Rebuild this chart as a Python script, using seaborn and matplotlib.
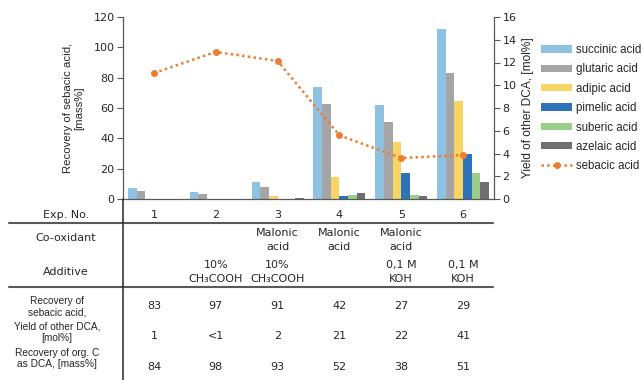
import matplotlib
matplotlib.use("Agg")
import matplotlib.pyplot as plt
import matplotlib.transforms as mtransforms
from matplotlib.lines import Line2D
from matplotlib.patches import Patch
import numpy as np
import pandas as pd
import seaborn as sns

# ---- data -------------------------------------------------------------
exp_no = ["1", "2", "3", "4", "5", "6"]
acids = ["succinic acid", "glutaric acid", "adipic acid",
         "pimelic acid", "suberic acid", "azelaic acid"]
# yield of other dicarboxylic acids, mol%
succinic = [1.0, 0.64, 1.49, 9.81, 8.26, 14.92]
glutaric = [0.73, 0.47, 1.02, 8.38, 6.77, 11.04]
adipic = [0.0, 0.0, 0.29, 1.96, 5.05, 8.64]
pimelic = [0.0, 0.0, 0.0, 0.29, 2.31, 4.0]
suberic = [0.0, 0.0, 0.0, 0.38, 0.38, 2.28]
azelaic = [0.0, 0.0, 0.12, 0.5, 0.23, 1.46]
# recovery of sebacic acid, mass%
sebacic = [83, 97, 91, 42, 27, 29]

# table rows
co_oxidant = ["", "", "Malonic\nacid", "Malonic\nacid", "Malonic\nacid", ""]
additive = ["", "10%\nCH\u2083COOH", "10%\nCH\u2083COOH", "", "0,1 M\nKOH", "0,1 M\nKOH"]
yield_other = ["1", "<1", "2", "21", "22", "41"]
recovery_c = ["84", "98", "93", "52", "38", "51"]

colors = ["#8FC1E3", "#A5A5A8", "#F8D465", "#2E73BA", "#9ACF8A", "#6F6E70"]
seb_color = "#ED7D31"
ink = "#595959"

sns.set_theme(style="white")
plt.rcParams["font.family"] = ["DejaVu Sans"]
plt.rcParams["text.color"] = "#262626"
plt.rcParams["axes.labelcolor"] = "#262626"
plt.rcParams["xtick.color"] = "#262626"
plt.rcParams["ytick.color"] = "#262626"
label_font = ["Liberation Sans", "DejaVu Sans"]

W, H = 643, 380
fig = plt.figure(figsize=(W / 100, H / 100), dpi=100)

x0, x1, ytop, ybot = 123, 494, 17, 199
ax = fig.add_axes([x0 / W, 1 - ybot / H, (x1 - x0) / W, (ybot - ytop) / H])
ax2 = ax.twinx()

long = pd.DataFrame({
    "exp": np.repeat(exp_no, len(acids)),
    "acid": acids * len(exp_no),
    "val": np.column_stack([succinic, glutaric, adipic, pimelic, suberic, azelaic]).ravel(),
})

sns.barplot(data=long, x="exp", y="val", hue="acid", hue_order=acids,
            order=exp_no, palette=colors, width=0.84, ax=ax2,
            legend=False, linewidth=0, saturation=1)

pos = np.arange(len(exp_no))
sns.lineplot(x=pos, y=sebacic, ax=ax, color=seb_color, marker="o",
             markersize=5, markeredgewidth=0, linewidth=1.8,
             linestyle=(0, (1, 1.3)))

# put the line axis above the bars
ax.set_zorder(ax2.get_zorder() + 1)
ax.patch.set_visible(False)

ax.set_xlim(-0.5, len(exp_no) - 0.5)
ax.set_ylim(0, 120)
ax.set_yticks(np.arange(0, 121, 20))
ax2.set_ylim(0, 16)
ax2.set_yticks(np.arange(0, 17, 2))
ax.set_xticks(pos)
ax.set_xticklabels([])
ax.tick_params(axis="x", length=0)
ax.set_xlabel("")
ax2.set_xlabel("")

for a in (ax, ax2):
    a.tick_params(axis="y", labelsize=8, length=4, width=0.8, color=ink, pad=2)
    for s in a.spines.values():
        s.set_visible(False)
ax.spines["left"].set_visible(True)
ax.spines["bottom"].set_visible(True)
ax2.spines["right"].set_visible(True)
for s in (ax.spines["left"], ax.spines["bottom"], ax2.spines["right"]):
    s.set_color(ink)
    s.set_linewidth(0.9)
ax.tick_params(axis="y", left=True)
ax2.tick_params(axis="y", right=True)

ax.set_ylabel("Recovery of sebacic acid,\n[mass%]", fontsize=8.2, labelpad=7,
              linespacing=1.1, family=label_font)
ax2.set_ylabel("Yield of other DCA, [mol%]", fontsize=8.6, labelpad=4,
               family=label_font)

# ---- legend ------------------------------------------------------------
handles = [Patch(facecolor=c, edgecolor="none", label=l) for c, l in zip(colors, acids)]
handles.append(Line2D([], [], color=seb_color, marker="o", markersize=5,
                      markeredgewidth=0, linewidth=1.8, linestyle=(0, (1, 1.3)),
                      label="sebacic acid"))
fig.legend(handles=handles, loc="upper left", bbox_to_anchor=(541 / W, 1 - 44 / H),
           frameon=False, prop={"family": label_font, "size": 8.3},
           borderpad=0, borderaxespad=0,
           handlelength=2.7, handleheight=0.6, handletextpad=0.35,
           labelspacing=0.64)

# ---- table under the chart --------------------------------------------
def fy(y):
    return 1 - y / H

col = mtransforms.blended_transform_factory(ax.transData, fig.transFigure)
lab_x = 66 / W
low_x = 57 / W
fs = 8
fs_low = 7.3

fig.text(lab_x, fy(215), "Exp. No.", ha="center", va="center", fontsize=fs)
fig.text(lab_x, fy(238), "Co-oxidant", ha="center", va="center", fontsize=fs)
fig.text(lab_x, fy(272), "Additive", ha="center", va="center", fontsize=fs)
fig.text(low_x, fy(306.5), "Recovery of\nsebacic acid,", ha="center", va="center",
         fontsize=fs_low, linespacing=1.2, family=label_font)
fig.text(low_x, fy(332), "Yield of other DCA,\n[mol%]", ha="center", va="center",
         fontsize=fs_low, linespacing=1.2, family=label_font)
fig.text(low_x, fy(358.5), "Recovery of org. C\nas DCA, [mass%]", ha="center",
         va="center", fontsize=fs_low, linespacing=1.2, family=label_font)

for i in range(len(exp_no)):
    ax.text(i, fy(215), exp_no[i], transform=col, ha="center", va="center", fontsize=fs)
    if co_oxidant[i]:
        ax.text(i, fy(239.5), co_oxidant[i], transform=col, ha="center",
                va="center", fontsize=fs, linespacing=1.5)
    if additive[i]:
        ax.text(i, fy(272), additive[i], transform=col, ha="center",
                va="center", fontsize=fs, linespacing=1.5)
    ax.text(i, fy(306), str(sebacic[i]), transform=col, ha="center", va="center", fontsize=fs)
    ax.text(i, fy(336), yield_other[i], transform=col, ha="center", va="center", fontsize=fs)
    ax.text(i, fy(367), recovery_c[i], transform=col, ha="center", va="center", fontsize=fs)

for yy in (223, 287):
    fig.add_artist(Line2D([9 / W, 493 / W], [fy(yy), fy(yy)], color=ink, linewidth=1.5))
fig.add_artist(Line2D([x0 / W, x0 / W], [fy(ybot), 0], color="#262626", linewidth=1.1))

fig.savefig("out.png", dpi=100)
